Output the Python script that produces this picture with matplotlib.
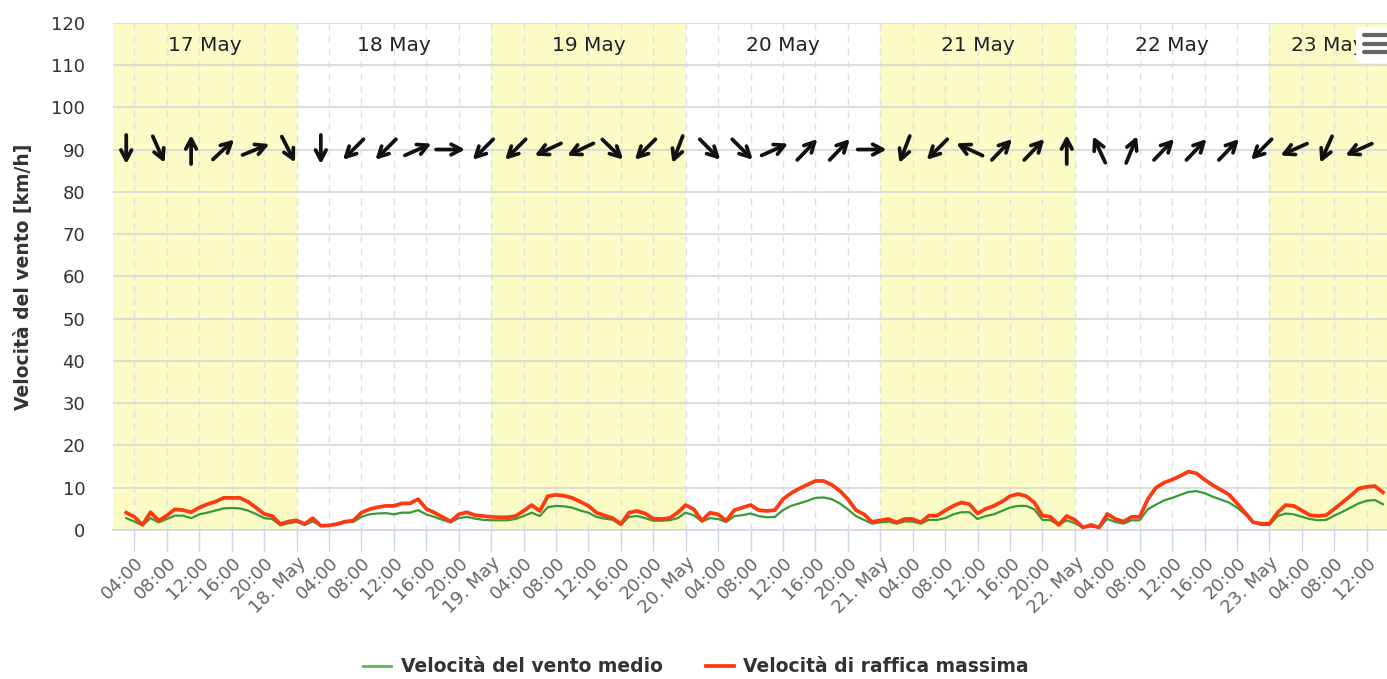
import numpy as np
import pandas as pd
import matplotlib
matplotlib.use("Agg")
import matplotlib.pyplot as plt
import matplotlib.dates as mdates
from matplotlib.patches import FancyBboxPatch
from matplotlib.lines import Line2D
from matplotlib.transforms import offset_copy


# ============================================================
# data (hourly, 17 May 03:00 -> 23 May 14:00)
# ============================================================

START = "2024-05-17 03:00"

gust_17 = [4.1, 3.1, 1.2, 4.2, 2.2, 3.4, 4.9, 4.7, 4.2, 5.3, 6.1, 6.7, 7.6, 7.6, 7.6, 6.7, 5.3, 3.8, 3.3, 1.4, 2.0]
gust_18 = [2.3, 1.4, 2.8, 1.0, 1.1, 1.4, 2.0, 2.2, 4.1, 4.9, 5.4, 5.7, 5.7, 6.3, 6.3, 7.3, 5.0, 4.1, 3.1, 2.0, 3.7, 4.2, 3.5, 3.3]
gust_19 = [3.1, 3.0, 3.0, 3.3, 4.5, 5.9, 4.5, 8.0, 8.3, 8.1, 7.6, 6.7, 5.7, 4.1, 3.4, 2.8, 1.4, 4.1, 4.5, 3.9, 2.7, 2.6, 2.8, 4.1]
gust_20 = [5.9, 4.9, 2.2, 4.1, 3.7, 2.2, 4.7, 5.3, 5.9, 4.7, 4.5, 4.7, 7.3, 8.7, 9.8, 10.7, 11.6, 11.6, 10.7, 9.3, 7.3, 4.7, 3.7, 1.9]
gust_21 = [2.3, 2.6, 1.8, 2.6, 2.6, 1.8, 3.4, 3.4, 4.6, 5.7, 6.5, 6.1, 3.9, 5.0, 5.7, 6.7, 8.0, 8.5, 8.0, 6.5, 3.4, 3.1, 1.2, 3.3]
gust_22 = [2.4, 0.6, 1.2, 0.6, 3.8, 2.6, 2.0, 3.1, 3.1, 7.3, 10.0, 11.2, 11.9, 12.8, 13.8, 13.4, 11.9, 10.6, 9.5, 8.4, 6.3, 4.1, 1.8, 1.5]
gust_23 = [1.5, 4.1, 5.9, 5.7, 4.6, 3.5, 3.3, 3.5, 5.0, 6.5, 8.1, 9.8, 10.2, 10.4, 8.9]

mean_17 = [2.8, 2.0, 1.1, 2.8, 1.8, 2.6, 3.4, 3.4, 2.8, 3.7, 4.1, 4.6, 5.1, 5.2, 5.1, 4.6, 3.8, 2.8, 2.6, 1.1, 1.6]
mean_18 = [1.9, 1.2, 2.0, 1.0, 1.1, 1.3, 1.8, 1.9, 3.1, 3.7, 3.9, 4.0, 3.7, 4.1, 4.1, 4.7, 3.7, 3.1, 2.4, 1.8, 2.8, 3.1, 2.7, 2.4]
mean_19 = [2.3, 2.3, 2.3, 2.6, 3.3, 4.1, 3.3, 5.4, 5.7, 5.6, 5.3, 4.6, 4.1, 3.1, 2.7, 2.4, 1.2, 3.1, 3.3, 2.8, 2.2, 2.2, 2.3, 2.8]
mean_20 = [4.1, 3.5, 2.0, 2.8, 2.6, 1.9, 3.3, 3.5, 3.9, 3.3, 3.0, 3.1, 4.7, 5.7, 6.3, 6.9, 7.6, 7.7, 7.3, 6.3, 4.9, 3.3, 2.4, 1.5]
mean_21 = [1.8, 2.0, 1.5, 2.0, 2.0, 1.5, 2.4, 2.4, 2.8, 3.7, 4.2, 4.2, 2.6, 3.3, 3.7, 4.5, 5.3, 5.7, 5.7, 4.9, 2.4, 2.3, 1.2, 2.3]
mean_22 = [1.6, 0.6, 0.8, 0.6, 2.6, 1.9, 1.5, 2.3, 2.3, 4.9, 6.0, 7.0, 7.6, 8.3, 9.0, 9.2, 8.7, 7.9, 7.2, 6.5, 5.3, 3.7, 1.8, 1.2]
mean_23 = [1.2, 3.3, 3.9, 3.7, 3.1, 2.6, 2.3, 2.4, 3.4, 4.3, 5.3, 6.3, 6.9, 7.1, 6.1]

# wind arrows every 4 h from 03:00, direction the arrow points (deg clockwise from north)
ARROW_START = "2024-05-17 03:00"
ARROW_LEVEL = 90
arrow_dir = [180, 156, 0, 47, 68, 153,
             180, 225, 225, 66, 90, 225,
             225, 245, 245, 134, 225, 201,
             135, 135, 66, 44, 44, 90,
             201, 225, 295, 44, 44, 0,
             335, 22, 44, 44, 44, 225,
             246, 204, 246]

days = ["17 May", "18 May", "19 May", "20 May", "21 May", "22 May", "23 May"]
day_start = pd.Timestamp("2024-05-17")

LABEL_MEAN = "Velocità del vento medio"
LABEL_GUST = "Velocità di raffica massima"
YLABEL = "Velocità del vento [km/h]"

# ============================================================
# figure
# ============================================================

W, H = 1387, 679
fig = plt.figure(figsize=(W / 100, H / 100), dpi=100)
ax = fig.add_axes([113 / W, 1 - 530 / H, 1 - 113 / W, (530 - 22.7) / H])

gust = gust_17 + gust_18 + gust_19 + gust_20 + gust_21 + gust_22 + gust_23
mean = mean_17 + mean_18 + mean_19 + mean_20 + mean_21 + mean_22 + mean_23
times = pd.date_range(START, periods=len(gust), freq="h")

x_left = day_start + pd.Timedelta(minutes=82)
x_right = day_start + pd.Timedelta(days=6, hours=14, minutes=30)

# alternating day bands
for i, d in enumerate(days):
    if i % 2 == 0:
        d0 = day_start + pd.Timedelta(days=i)
        ax.axvspan(d0, d0 + pd.Timedelta(days=1), color="#fbfbc6", zorder=0, lw=0)

ax.plot(times, mean, color="#379a37", lw=1.6, zorder=3)
ax.plot(times, gust, color="#fb3a10", lw=2.7, zorder=4)

ax.set_xlim(x_left, x_right)
ax.set_ylim(0, 120)

# wind direction arrows (fixed pixel length, centred on the point)
arrow_t = pd.date_range(ARROW_START, periods=len(arrow_dir), freq="4h")
L = 29.0
for t, d in zip(arrow_t, arrow_dir):
    r = np.deg2rad(d)
    dx, dy = L / 2 * np.sin(r), L / 2 * np.cos(r)
    tip = offset_copy(ax.transData, fig=fig, x=dx, y=dy, units="dots")
    ax.annotate("", xy=(mdates.date2num(t), ARROW_LEVEL), xycoords=tip,
                xytext=(-2 * dx, -2 * dy), textcoords="offset pixels",
                arrowprops=dict(arrowstyle="->,head_length=0.36,head_width=0.19",
                                lw=2.7, color="#111111", shrinkA=0, shrinkB=0,
                                mutation_scale=20),
                zorder=5)

# day labels on top
for i, d in enumerate(days):
    d0 = max(day_start + pd.Timedelta(days=i), x_left)
    d1 = min(day_start + pd.Timedelta(days=i + 1), x_right)
    mid = d0 + (d1 - d0) / 2
    ax.text(mid, 0.956, d, transform=ax.get_xaxis_transform(),
            ha="center", va="center", fontsize=14.5, color="#222222", zorder=6)

ax.set_yticks(range(0, 121, 10))
ax.xaxis.set_major_locator(mdates.HourLocator(byhour=range(0, 24, 4)))


def fmt_tick(x, pos=None):
    t = mdates.num2date(x)
    if t.hour == 0:
        return f"{t.day}. May"
    return t.strftime("%H:%M")


ax.xaxis.set_major_formatter(plt.FuncFormatter(fmt_tick))
ax.tick_params(axis="x", length=15, width=1, color="#ccd6eb", pad=2,
               labelsize=13, labelcolor="#666666", direction="out")
plt.setp(ax.get_xticklabels(), rotation=45, ha="right", rotation_mode="anchor")
ax.tick_params(axis="y", length=0, labelsize=13, labelcolor="#333333", pad=20)

ax.yaxis.grid(True, color="#d8d8d8", lw=1.2)
ax.xaxis.grid(True, color="#e0e0e0", lw=1, ls=(0, (5, 4)))
ax.set_axisbelow(True)

for s in ["top", "right", "left"]:
    ax.spines[s].set_visible(False)
ax.spines["bottom"].set_color("#ccd6eb")
ax.spines["bottom"].set_linewidth(1.2)

ax.set_ylabel(YLABEL, fontsize=13.5, fontweight="bold", color="#333333")
ax.yaxis.set_label_coords(-(113 - 33) / (W - 113), 0.5)

# legend
handles = [Line2D([], [], color="#5cb85c", lw=2),
           Line2D([], [], color="#fb3a10", lw=2.7)]
fig.legend(handles, [LABEL_MEAN, LABEL_GUST], loc="center", ncol=2,
           bbox_to_anchor=(696 / W, 1 - 667 / H), frameon=False,
           prop={"weight": "bold", "size": 13.5}, labelcolor="#333333",
           handlelength=1.5, handletextpad=0.5, columnspacing=2.3)

# export menu icon
fig.add_artist(FancyBboxPatch((1356 / W, 1 - 63 / H), 40 / W, 36 / H,
                              boxstyle="round,pad=0,rounding_size=0.004",
                              transform=fig.transFigure, facecolor="white",
                              edgecolor="none", zorder=10))
for yy in [35, 43.5, 52]:
    fig.add_artist(Line2D([1364 / W, 1.0], [1 - yy / H, 1 - yy / H],
                          transform=fig.transFigure, color="#666666",
                          lw=3, solid_capstyle="round", zorder=11))

fig.savefig("out.png", dpi=100)
